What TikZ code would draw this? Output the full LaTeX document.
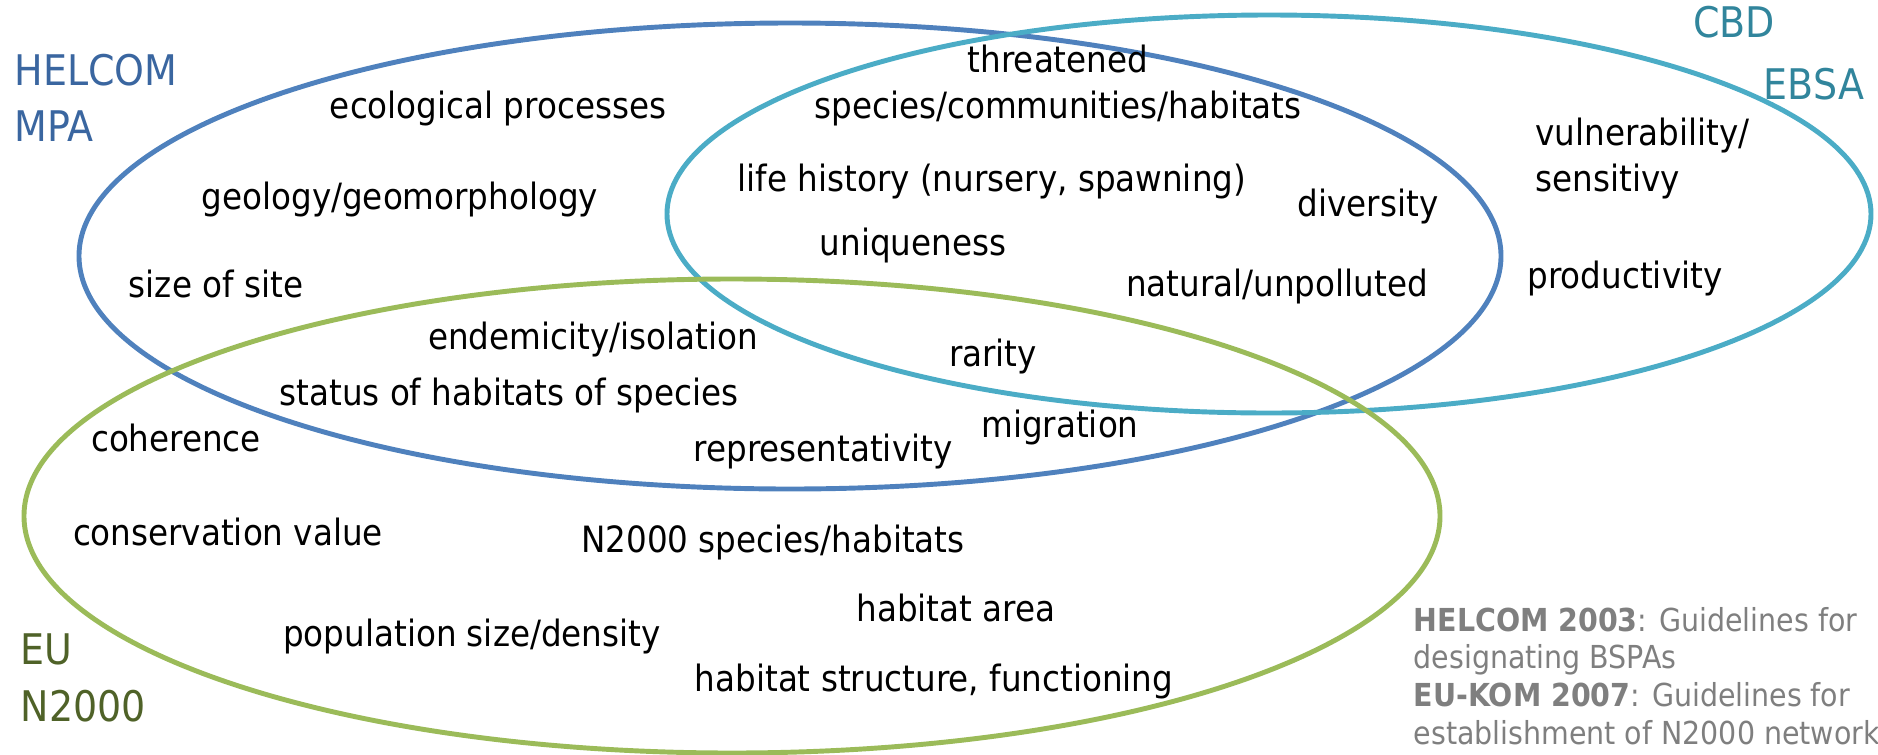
\documentclass[tikz,border=0pt]{standalone}
\usepackage{fontspec}
\setmainfont{DejaVu Sans Condensed}
\definecolor{helblue}{HTML}{4F81BD}
\definecolor{helbluetxt}{HTML}{3A66A0}
\definecolor{cbdteal}{HTML}{4BACC6}
\definecolor{cbdtealtxt}{HTML}{31859C}
\definecolor{eugreen}{HTML}{9BBB59}
\definecolor{eugreentxt}{HTML}{4F6228}
\definecolor{notegray}{HTML}{7F7F7F}
\begin{document}
\begin{tikzpicture}[
        x=0.01cm, y=-0.01cm, % pixel grid of the slide
        ring/.style = {line width=1.4pt}, % ellipse outline
        crit/.style = {font=\fontsize{10.3}{13}\selectfont, align=center, inner sep=0pt, text height=1.45ex, text depth=0.3ex},
        setlab/.style = {font=\fontsize{12}{16}\selectfont, align=left, anchor=west, inner sep=0pt},
        note/.style = {font=\fontsize{9}{10.7}\selectfont, text=notegray, align=left, anchor=west, inner sep=0pt},
    ]
    \useasboundingbox (0,0) rectangle (1878,754);

    % sets
    \draw[ring, helblue] (790,256) ellipse [x radius=711, y radius=233];
    \draw[ring, cbdteal] (1269,214) ellipse [x radius=602, y radius=199];
    \draw[ring, eugreen] (732,516) ellipse [x radius=708, y radius=237];

    % set names
    \node[setlab, text=helbluetxt] (helcom) at (14,98) {HELCOM\\MPA};
    \node[setlab, text=cbdtealtxt, anchor=center] (cbd) at (1734,22) {CBD};
    \node[setlab, text=cbdtealtxt, anchor=center] (ebsa) at (1814,84) {EBSA};
    \node[setlab, text=eugreentxt] (eu) at (20,678) {EU\\N2000};

    % criteria
    \node[crit] (threat) at (1058,107) {threatened\\species/communities/habitats};
    \node[crit] (ecol) at (498,107) {ecological processes};
    \node[crit] (lifehist) at (992,180) {life history (nursery, spawning)};
    \node[crit] (divers) at (1368,205) {diversity};
    \node[crit] (geol) at (400,198) {geology/geomorphology};
    \node[crit] (uniq) at (913,244) {uniqueness};
    \node[crit, anchor=west, align=left] (vuln) at (1535,180) {vulnerability/\\sensitivy};
    \node[crit] (sitesize) at (216,286) {size of site};
    \node[crit] (natural) at (1277,285) {natural/unpolluted};
    \node[crit] (product) at (1625,277) {productivity};
    \node[crit] (endem) at (593,338) {endemicity/isolation};
    \node[crit] (rarity) at (993,355) {rarity};
    \node[crit] (status) at (509,394) {status of habitats of species};
    \node[crit] (coher) at (176,440) {coherence};
    \node[crit] (migr) at (1060,426) {migration};
    \node[crit] (repres) at (823,450) {representativity};
    \node[crit] (consval) at (228,534) {conservation value};
    \node[crit] (nspec) at (773,541) {N2000 species/habitats};
    \node[crit] (harea) at (956,610) {habitat area};
    \node[crit] (popsize) at (472,635) {population size/density};
    \node[crit] (hstruct) at (934,680) {habitat structure, functioning};

    % sources
    \node[note] (sources) at (1413,676) {\textbf{HELCOM 2003}: Guidelines for\\designating BSPAs\\\textbf{EU-KOM 2007}: Guidelines for\\establishment of N2000 network};

\end{tikzpicture}
\end{document}
